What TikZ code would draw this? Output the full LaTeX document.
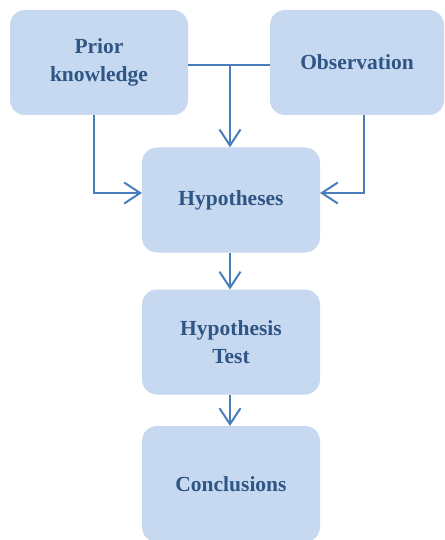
\documentclass[tikz,border=0pt]{standalone}
\usepackage{fontspec}
\setmainfont{Liberation Serif}
\usetikzlibrary{arrows.meta}
\definecolor{boxfill}{HTML}{C6D9F0}
\definecolor{linec}{HTML}{4A7EBB}
\definecolor{txtc}{HTML}{2F5585}
\begin{document}
\begin{tikzpicture}[x=1pt,y=-1pt,
  box/.style={draw=none,fill=boxfill,rounded corners=15pt,minimum width=178pt,minimum height=105pt,inner sep=0pt,
    font=\fontsize{21.5}{28}\selectfont\bfseries,text=txtc,align=center},
  conn/.style={draw=linec,line width=2pt,-{Straight Barb[length=16pt,width=21pt,line width=2pt]}},
  plain/.style={draw=linec,line width=2pt}]
\useasboundingbox (0,0) rectangle (444,540);
\node[box] (prior) at (99,62.5) {Prior\\knowledge};
\node[box,minimum width=174pt] (obs) at (357,62.5) {Observation};
\node[box] (hyp) at (231,200) {Hypotheses};
\node[box] (test) at (231,342) {Hypothesis\\Test};
\node[box,minimum height=116pt] (conc) at (231,484) {Conclusions};
\coordinate (j) at (230,65);
\coordinate (lh) at (142,193);
\coordinate (rh) at (320,193);
\draw[plain] (prior.east |- j) -- (obs.west |- j);
\draw[conn] (j) -- (j |- hyp.north);
\draw[conn] (94,115) |- (lh);
\draw[conn] (364,115) |- (rh);
\draw[conn] (230,252.5) -- (230,289.5);
\draw[conn] (230,394.5) -- (230,426);
\end{tikzpicture}
\end{document}
